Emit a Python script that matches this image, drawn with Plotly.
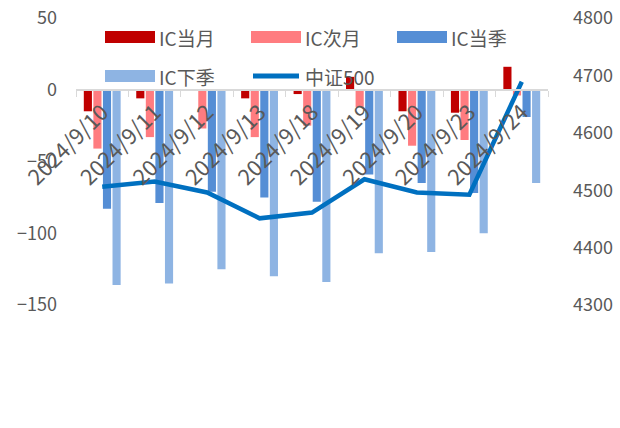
import plotly.graph_objects as go

dates = ["2024/9/10", "2024/9/11", "2024/9/12", "2024/9/13", "2024/9/18",
         "2024/9/19", "2024/9/20", "2024/9/23", "2024/9/24"]
ic_cur_month = [-15, -6, 0, -6, -3, 9, -15, -16, 16]
ic_next_month = [-41, -33, -27, -33, -25, -12, -39, -35, -4]
ic_cur_quarter = [-83, -79, -71, -75, -78, -59, -65, -72, -19]
ic_next_quarter = [-136, -135, -125, -130, -134, -114, -113, -100, -65]
csi500 = [4506, 4515, 4496, 4451, 4461, 4519, 4496, 4492, 4689]

bar_names = ["IC当月", "IC次月", "IC当季", "IC下季"]
bar_colors = ["#C00000", "#FF7C80", "#558ED5", "#8EB4E3"]
line_name = "中证500"
line_color = "#0070C0"

FONT = "Noto Sans CJK SC"
TXT = "#595959"

fig = go.Figure()
for name, vals, col in zip(bar_names,
                           [ic_cur_month, ic_next_month, ic_cur_quarter, ic_next_quarter],
                           bar_colors):
    fig.add_trace(go.Bar(x=dates, y=vals, name=name, marker_color=col,
                         marker_line_width=0, showlegend=False))
fig.add_trace(go.Scatter(x=dates, y=csi500, name=line_name, mode="lines",
                         line=dict(color=line_color, width=4.5), yaxis="y2",
                         showlegend=False))

W, H = 620, 428
PL, PR, PT, PB = 76, 548, 18, 305          # plot area in pixels
PW, PH = PR - PL, PB - PT

legend_items = [(bar_names[0], bar_colors[0], "bar"), (bar_names[1], bar_colors[1], "bar"),
                (bar_names[2], bar_colors[2], "bar"), (bar_names[3], bar_colors[3], "bar"),
                (line_name, line_color, "line")]
pos = [(105, 37), (251, 37), (397, 37), (105, 76), (251, 76)]
shapes = []
annotations = []
for (name, col, kind), (x0, yc) in zip(legend_items, pos):
    if kind == "bar":
        shapes.append(dict(type="rect", xref="paper", yref="paper",
                           x0=(x0 - PL) / PW, x1=(x0 + 50 - PL) / PW,
                           y0=(PB - (yc + 6)) / PH, y1=(PB - (yc - 6)) / PH,
                           fillcolor=col, line_width=0, layer="above"))
    else:
        shapes.append(dict(type="line", xref="paper", yref="paper",
                           x0=(x0 + 2 - PL) / PW, x1=(x0 + 48 - PL) / PW,
                           y0=(PB - yc) / PH, y1=(PB - yc) / PH,
                           line=dict(color=col, width=5), layer="above"))
    annotations.append(dict(text=name, xref="paper", yref="paper",
                            x=(x0 + 52 - PL) / PW, y=(PB - yc) / PH,
                            xanchor="left", yanchor="middle", showarrow=False,
                            font=dict(family=FONT, size=19, color=TXT)))

fig.update_layout(
    width=W, height=H,
    margin=dict(l=PL, r=W - PR, t=PT, b=H - PB, autoexpand=False),
    paper_bgcolor="white", plot_bgcolor="white",
    barmode="group", bargap=0.27, bargroupgap=0.15,
    shapes=shapes, annotations=annotations,
    showlegend=False,
    xaxis=dict(type="category", range=[-0.5, 8.5], anchor="free",
               position=(PB - 90) / PH, automargin=False,
               showline=True, linecolor="#D9D9D9", linewidth=1.5,
               ticks="outside", tickson="boundaries", ticklen=6, tickcolor="#D9D9D9",
               tickangle=-45, showgrid=False,
               tickfont=dict(family=FONT, size=22, color=TXT)),
    yaxis=dict(range=[-150, 50], tickvals=[-150, -100, -50, 0, 50],
               showgrid=False, zeroline=False, showline=False, automargin=False,
               ticklabelstandoff=18, ticklabeloverflow="allow",
               tickfont=dict(family=FONT, size=18, color=TXT)),
    yaxis2=dict(range=[4300, 4800], tickvals=[4300, 4400, 4500, 4600, 4700, 4800],
                overlaying="y", side="right", showgrid=False, zeroline=False,
                showline=False, automargin=False, ticklabelstandoff=24,
                ticklabeloverflow="allow",
                tickfont=dict(family=FONT, size=18, color=TXT)),
)

fig.write_html("out.html", config={"displayModeBar": False},
               post_script="document.body.style.margin='0';document.body.style.padding='0';")
